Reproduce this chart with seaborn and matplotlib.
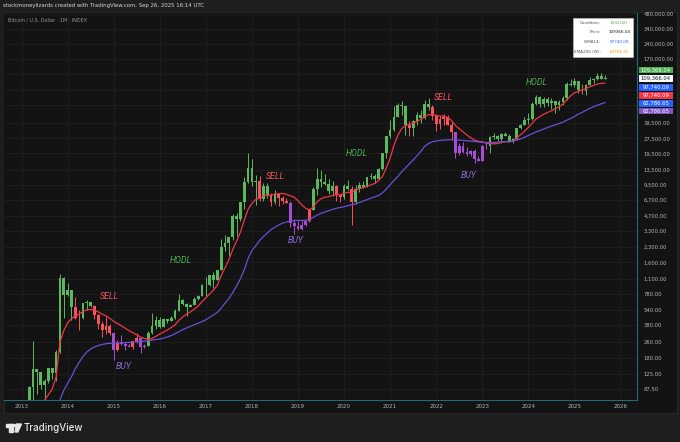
import numpy as np
import pandas as pd
import matplotlib
matplotlib.use("Agg")
import matplotlib.pyplot as plt
from matplotlib.patches import Rectangle, Polygon, Circle
from matplotlib.ticker import NullLocator
import seaborn as sb

W, H = 680, 442

# monthly candles, Jan 2013 .. Sep 2025 (Bitcoin index, USD)
months = pd.period_range("2013-01", "2025-09", freq="M").strftime("%Y-%m")

opens = [
    13.5, 20.4, 33.4, 93, 139, 129, 97, 106, 141, 126, 204, 1130,
    760, 850, 570, 450, 447, 630, 640, 585, 480, 387, 338, 375,
    320, 217, 254, 244, 236, 230, 263, 284, 230, 236, 314, 377,
    430, 368, 437, 416, 448, 531, 673, 624, 574, 608, 700, 742,
    963, 965, 1190, 1080, 1350, 2300, 2480, 2870, 4700, 4340, 6440, 10200,
    13900, 10200, 10300, 6900, 9200, 7500, 6400, 7700, 7000, 6600, 6300, 4000,
    3700, 3450, 3820, 4100, 5300, 8550, 10800, 10100, 9600, 8300, 9150, 7550,
    7200, 9350, 8550, 6430, 8630, 9450, 9140, 11350, 11650, 10780, 13800, 19700,
    29000, 33100, 45200, 58800, 57700, 37300, 35000, 41500, 47100, 43800, 61300, 57000,
    46300, 38500, 43200, 45500, 37700, 31800, 19900, 23300, 20000, 19400, 20500, 17200,
    16500, 23100, 23100, 28500, 29200, 27200, 30500, 29200, 25900, 27000, 34600, 37700,
    42300, 42600, 61200, 71300, 60700, 67500, 62700, 64600, 59000, 63300, 70200, 96400,
    93400, 102400, 84300, 82500, 94200, 104600, 107100, 115700, 108200,
]
highs = [
    20.7, 34, 95, 266, 140, 130, 111, 142, 142, 214, 1240, 1160,
    1000, 860, 720, 540, 635, 680, 650, 600, 490, 420, 460, 390,
    320, 270, 300, 260, 247, 267, 318, 286, 245, 334, 500, 465,
    460, 445, 440, 470, 550, 780, 700, 630, 620, 720, 755, 980,
    1150, 1200, 1290, 1360, 2760, 3000, 2900, 4900, 5000, 6470, 11400, 19700,
    17200, 11800, 11700, 9800, 10000, 7800, 8500, 7800, 7400, 7100, 6600, 4300,
    4100, 4200, 4110, 5600, 9100, 13900, 13200, 12300, 10900, 10400, 9500, 7700,
    9600, 10500, 9200, 9460, 10070, 10400, 11450, 12470, 12060, 14100, 19900, 29300,
    41900, 58300, 61800, 64900, 59600, 41300, 42400, 50500, 52900, 67000, 69000, 59000,
    48000, 45800, 48200, 47400, 40000, 31900, 24700, 25200, 22800, 20900, 21500, 18400,
    23900, 25200, 29200, 31000, 29800, 31400, 31800, 30200, 27500, 35200, 38400, 44700,
    48900, 63900, 73800, 72800, 71900, 72000, 70000, 65100, 66500, 73600, 99600, 108300,
    109400, 102500, 95000, 95700, 112000, 110500, 123200, 124500, 117900,
]
lows = [
    13.2, 19.6, 33, 50, 79, 88, 65, 101, 110, 105, 200, 450,
    740, 430, 440, 340, 440, 540, 570, 440, 350, 290, 310, 300,
    170, 210, 240, 214, 228, 220, 253, 200, 225, 234, 310, 350,
    355, 365, 395, 415, 440, 520, 600, 470, 570, 600, 680, 740,
    750, 940, 900, 1060, 1340, 2100, 1840, 2700, 2950, 4160, 5500, 10000,
    9200, 6000, 6600, 6500, 7000, 5800, 6100, 5900, 6100, 6200, 3600, 3100,
    3400, 3360, 3700, 4050, 5300, 7450, 9100, 9400, 7700, 7300, 6500, 6450,
    6900, 8500, 3800, 6150, 8100, 8900, 8980, 10950, 9900, 10550, 13200, 17600,
    28100, 32300, 45000, 47000, 30000, 28800, 29300, 37300, 39600, 43300, 53300, 42000,
    33000, 34300, 37200, 37600, 26700, 17600, 18800, 19600, 18200, 18200, 15500, 16300,
    16400, 21400, 19600, 26900, 25900, 24800, 28900, 25200, 24900, 26600, 34100, 37600,
    38500, 41900, 59300, 56500, 56600, 58400, 53500, 49000, 52600, 58900, 66800, 91300,
    89200, 78200, 76600, 74500, 93400, 98200, 105100, 107300, 107300,
]
closes = [
    20.4, 33.4, 93, 139, 129, 97, 106, 141, 126, 204, 1130, 760,
    850, 570, 450, 447, 630, 640, 585, 480, 387, 338, 375, 320,
    217, 254, 244, 236, 230, 263, 284, 230, 236, 314, 377, 430,
    368, 437, 416, 448, 531, 673, 624, 574, 608, 700, 742, 963,
    965, 1190, 1080, 1350, 2300, 2480, 2870, 4700, 4340, 6440, 10200, 13900,
    10200, 10300, 6900, 9200, 7500, 6400, 7700, 7000, 6600, 6300, 4000, 3700,
    3450, 3820, 4100, 5300, 8550, 10800, 10100, 9600, 8300, 9150, 7550, 7200,
    9350, 8550, 6430, 8630, 9450, 9140, 11350, 11650, 10780, 13800, 19700, 29000,
    33100, 45200, 58800, 57700, 37300, 35000, 41500, 47100, 43800, 61300, 57000, 46300,
    38500, 43200, 45500, 37700, 31800, 19900, 23300, 20000, 19400, 20500, 17200, 16500,
    23100, 23100, 28500, 29200, 27200, 30500, 29200, 25900, 27000, 34600, 37700, 42300,
    42600, 61200, 71300, 60700, 67500, 62700, 64600, 59000, 63300, 70200, 96400, 93400,
    102400, 84300, 82500, 94200, 104600, 107100, 115700, 108200, 109366.04,
]

# red line: WMA14 (monthly)
wma14 = [
    10, 13, 22, 40, 52, 60, 68, 77, 88, 115, 255, 335,
    400, 440, 470, 490, 520, 540, 545, 535, 515, 490, 470, 445,
    415, 395, 375, 355, 335, 320, 305, 290, 280, 275, 280, 295,
    310, 325, 340, 360, 385, 425, 460, 490, 515, 550, 590, 650,
    710, 780, 850, 950, 1180, 1420, 1700, 2150, 2600, 3200, 4200, 5400,
    6200, 6800, 7000, 7400, 7500, 7500, 7700, 7750, 7800, 7650, 7400, 7150,
    6600, 6000, 5550, 5330, 5700, 6450, 6900, 7150, 7240, 7450, 7600, 7530,
    7830, 8000, 7950, 8445, 8700, 8900, 9200, 9500, 9800, 10500, 11500, 14000,
    17500, 23500, 29500, 34500, 37000, 38000, 39000, 41000, 42500, 45500, 47500, 47500,
    46500, 46000, 46000, 44500, 41500, 37000, 34500, 32000, 29800, 28000, 26500, 25800,
    25500, 24700, 24500, 24300, 24500, 25200, 25500, 25500, 25800, 28000, 30000, 32500,
    35500, 39000, 43000, 45500, 48000, 50000, 52000, 54500, 57000, 60500, 67000, 73000,
    78500, 81000, 83500, 86500, 90000, 93000, 96000, 97500, 97740.09,
]
# purple line: EMA200 on the weekly chart
ema200w = [
    8, 10, 14, 22, 30, 36, 42, 48, 53, 58, 68, 85,
    100, 116, 140, 162, 185, 205, 220, 230, 238, 244, 248, 251,
    252, 253, 254, 255, 256, 258, 259, 261, 263, 266, 270, 273,
    276, 282, 290, 300, 312, 327, 343, 357, 370, 383, 397, 412,
    430, 455, 480, 510, 560, 630, 700, 800, 930, 1100, 1350, 1750,
    2100, 2350, 2650, 2900, 3150, 3400, 3600, 3780, 3950, 4060, 4150, 4180,
    4200, 4200, 4220, 4300, 4500, 4750, 4950, 5100, 5250, 5400, 5550, 5650,
    5750, 5900, 6000, 6150, 6350, 6550, 6750, 7000, 7200, 7450, 7900, 8600,
    9500, 10500, 11500, 12800, 14000, 15300, 16800, 18500, 20500, 23000, 24500, 25500,
    26000, 26300, 26500, 26700, 26700, 26600, 26500, 26300, 26100, 25900, 25700, 25400,
    25200, 25100, 25000, 25100, 25300, 25500, 25600, 25700, 25900, 26600, 27300, 28300,
    29500, 30800, 32000, 33000, 34200, 35300, 36500, 37500, 38700, 40000, 41800, 43500,
    45500, 48000, 50000, 52500, 54800, 57000, 59000, 61000, 62786.65,
]

price_ticks = [87.5, 125, 180, 260, 380, 540, 780, 1100, 1600, 2300, 3300, 4700,
               6700, 9500, 13500, 19500, 27500, 39500, 59500, 84000, 120000,
               170000, 240000, 340000, 480000]
# these levels sit under the stacked price tags, so only their grid lines show
hidden_ticks = [59500, 84000, 120000]
years = list(range(2013, 2027))

# (label, month index, price) of the chart notes
notes = [
    ("SELL", 23.0, 730), ("BUY", 26.5, 147), ("HODL", 41.5, 1660),
    ("SELL", 66.0, 11600), ("BUY", 71.5, 2680), ("HODL", 87.3, 19300),
    ("SELL", 109.8, 70000), ("BUY", 116.4, 11900), ("HODL", 134.3, 98800),
]

GREEN, RED, PURPLE = "#5cb860", "#f7525f", "#a64fd6"
note_colors = {"SELL": "#f7525f", "BUY": "#8e6ad6", "HODL": "#4caf50"}

df = pd.DataFrame({"month": months, "open": opens, "high": highs, "low": lows,
                   "close": closes, "wma14": wma14, "ema200w": ema200w})
df["m"] = np.arange(len(df))


def candle_color(r):
    if r["close"] < r["ema200w"]:
        return PURPLE
    if r["close"] < r["wma14"]:
        return RED
    return GREEN


df["color"] = df.apply(candle_color, axis=1)


def fx(x):
    return x / W


def fy(y):
    return 1 - y / H


sb.set_theme(style="dark")
plt.rcParams["font.family"] = ["DejaVu Sans"]

fig = plt.figure(figsize=(6.8, 4.42), dpi=100, facecolor="#1e1e1e")
fig.patches.append(Rectangle((fx(4), fy(413)), fx(673), 401 / H, transform=fig.transFigure,
                             facecolor="#131313", edgecolor="#2a2a2a", lw=0.6, zorder=-5))

ax = fig.add_axes([fx(4), fy(400), fx(633), 387 / H])
ax.set_facecolor("#131313")
ax.set_yscale("log")

# candles
ax.vlines(df["m"], df["low"], df["high"], colors=df["color"], lw=0.7, zorder=3)
body_low = df[["open", "close"]].min(axis=1)
body_h = (df["open"] - df["close"]).abs()
ax.bar(df["m"], body_h, bottom=body_low, width=0.72, color=df["color"], lw=0, zorder=4)

sb.lineplot(data=df, x="m", y="wma14", ax=ax, color="#f23645", lw=0.9, zorder=5)
sb.lineplot(data=df, x="m", y="ema200w", ax=ax, color="#6a4fd8", lw=0.9, zorder=5)

for label, m, p in notes:
    ax.text(m, p, label, color=note_colors[label], fontsize=6.3, style="italic",
            family=["Roboto", "DejaVu Sans"], ha="center", va="center", zorder=6)

ax.set_xlim(-4.56, 160.3)
ax.set_ylim(68.3, 489000)
ax.set_xlabel("")
ax.set_ylabel("")

ax.set_xticks([12 * (y - 2013) for y in years])
ax.set_xticklabels([str(y) for y in years])
ax.yaxis.tick_right()
ax.set_yticks(price_ticks)
ax.set_yticklabels(["" if t in hidden_ticks else f"{t:,.2f}" for t in price_ticks])
ax.yaxis.set_minor_locator(NullLocator())
ax.tick_params(axis="x", length=0, pad=3.2, labelsize=4.0, labelcolor="#b2b5be")
ax.tick_params(axis="y", length=0, pad=4.5, labelsize=3.8, labelcolor="#b2b5be")
ax.grid(True, color="#1f1f1f", lw=0.6)
for side in ["top", "left"]:
    ax.spines[side].set_visible(False)
for side in ["right", "bottom"]:
    ax.spines[side].set_color("#1f6b78")
    ax.spines[side].set_linewidth(0.8)

# header texts
fig.text(fx(3), fy(6), "stockmoneylizards created with TradingView.com, Sep 26, 2025 16:14 UTC",
         color="#d1d4dc", fontsize=3.9, va="center")
fig.text(fx(8), fy(20), "Bitcoin / U.S. Dollar \u00b7 1M \u00b7 INDEX", color="#9598a1",
         fontsize=3.5, va="center")

# status table, top right
fig.patches.append(Rectangle((fx(573), fy(57)), fx(60), 39 / H, transform=fig.transFigure,
                             facecolor="white", edgecolor="#cccccc", lw=0.4, zorder=8))
rows = [("Condition:", "BULLISH", "#4caf50"), ("Price:", "109366.04", "#131722"),
        ("WMA14:", "97740.09", "#2962ff"), ("EMA200 (W):", "62786.65", "#ff9800")]
for i, (lab, val, col) in enumerate(rows):
    yy = fy(22.7 + 9.7 * i)
    fig.text(fx(601), yy, lab, color="#555555", fontsize=3.0, ha="right", va="center", zorder=9)
    fig.text(fx(619.5), yy, val, color=col, fontsize=3.0, ha="center", va="center", zorder=9)

# stacked price labels on the price scale
tags = [(70.0, "#4caf50", "white", "109,366.04"), (78.4, "white", "#131722", "109,366.04"),
        (87.3, "#2962ff", "white", "97,740.09"), (95.6, "#f23645", "white", "97,740.09"),
        (103.4, "#2962ff", "white", "62,786.65"), (111.0, "#7e57c2", "white", "62,786.65")]
for yc, bg, fg, txt in tags:
    fig.patches.append(Rectangle((fx(638.5), fy(yc + 3.4)), fx(34.5), 6.8 / H,
                                 transform=fig.transFigure, facecolor=bg, lw=0, zorder=8))
    fig.text(fx(655.7), fy(yc), txt, color=fg, fontsize=3.8, ha="center", va="center", zorder=9)

# TradingView logo at the bottom
logo_col = "#e6e6e6"
fig.patches.append(Rectangle((fx(6), fy(427)), fx(6.5), 3.2 / H, transform=fig.transFigure,
                             color=logo_col, zorder=8))
fig.patches.append(Rectangle((fx(9.3), fy(432)), fx(3.2), 8 / H, transform=fig.transFigure,
                             color=logo_col, zorder=8))
fig.patches.append(Circle((fx(14.5), fy(425.6)), 1.5 / W, transform=fig.transFigure,
                          color=logo_col, zorder=8))
fig.patches.append(Polygon([(fx(16.5), fy(424)), (fx(21.5), fy(424)), (fx(17.8), fy(432)),
                            (fx(15.2), fy(432))], closed=True, transform=fig.transFigure,
                           color=logo_col, zorder=8))
fig.text(fx(23.5), fy(427.8), "TradingView", color=logo_col, fontsize=7.0,
         family=["Inter", "DejaVu Sans"], weight="medium", va="center")

fig.savefig("out.png", dpi=100, facecolor=fig.get_facecolor())
